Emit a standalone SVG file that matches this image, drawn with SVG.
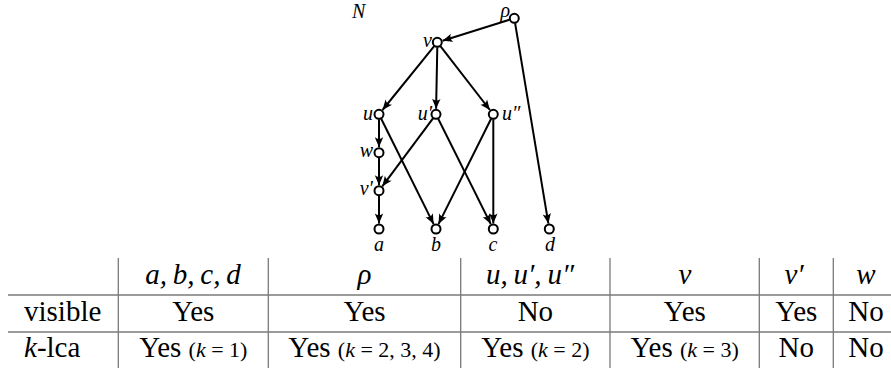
<svg xmlns="http://www.w3.org/2000/svg" width="891" height="374" viewBox="0 0 891 374">
<style>
.edge{stroke:#000;stroke-width:2;fill:none;marker-end:url(#arr)}
.node{fill:#fff;stroke:#000;stroke-width:2}
.lbl{font-family:"Liberation Serif","Times New Roman",serif;font-style:italic;font-size:20px;fill:#000}
.t{font-family:"Liberation Serif","Times New Roman",serif;font-size:29px;fill:#000}
.it{font-style:italic}
.sm{font-size:22px}
.grid{stroke:#7a7a7a;stroke-width:1.3}
</style>
<defs>
<marker id="arr" viewBox="-11 -5 12 10" markerWidth="12" markerHeight="10" refX="0" refY="0" orient="auto" markerUnits="userSpaceOnUse" overflow="visible">
<path d="M0,0 L-10,-4.2 Q-6.6,0 -10,4.2 Z" fill="#000"/>
</marker>
</defs>
<rect width="891" height="374" fill="#fff"/>
<g id="edges">
<line class="edge" x1="509.5" y1="19.8" x2="442.6" y2="40.7"/>
<line class="edge" x1="515.1" y1="23.2" x2="548.4" y2="223.6"/>
<line class="edge" x1="434.2" y1="46.2" x2="382.5" y2="110.0"/>
<line class="edge" x1="437.3" y1="47.3" x2="436.1" y2="108.8"/>
<line class="edge" x1="440.4" y1="46.2" x2="489.9" y2="110.0"/>
<line class="edge" x1="379" y1="119.3" x2="379" y2="147.2"/>
<line class="edge" x1="379" y1="157.7" x2="379" y2="185.2"/>
<line class="edge" x1="379" y1="195.7" x2="379" y2="223.5"/>
<line class="edge" x1="381.2" y1="118.8" x2="433.6" y2="224.1"/>
<line class="edge" x1="433" y1="118.3" x2="382.3" y2="186.3"/>
<line class="edge" x1="438.2" y1="118.8" x2="490.8" y2="224.1"/>
<line class="edge" x1="491.1" y1="118.8" x2="438.5" y2="224.1"/>
<line class="edge" x1="493.3" y1="119.3" x2="493.3" y2="223.5"/>
</g>
<text class="lbl" x="352" y="18">N</text>
<g id="rho"><circle class="node" cx="514.3" cy="18.3" r="4.5"/><text class="lbl" text-anchor="end" x="510" y="16.5" font-size="18">ρ</text></g>
<g id="v"><circle class="node" cx="437.3" cy="42.3" r="4.5"/><text class="lbl" text-anchor="end" x="432" y="47">v</text></g>
<g id="u"><circle class="node" cx="379" cy="114.3" r="4.5"/><text class="lbl" text-anchor="end" x="373" y="120">u</text></g>
<g id="u1"><circle class="node" cx="436" cy="114.3" r="4.5"/><text class="lbl" text-anchor="end" x="432" y="120">u′</text></g>
<g id="u2"><circle class="node" cx="493.3" cy="114.3" r="4.5"/><text class="lbl" x="502" y="120">u″</text></g>
<g id="w"><circle class="node" cx="379" cy="152.7" r="4.5"/><text class="lbl" text-anchor="end" x="373" y="157">w</text></g>
<g id="v1"><circle class="node" cx="379" cy="190.7" r="4.5"/><text class="lbl" text-anchor="end" x="373" y="195">v′</text></g>
<g id="a"><circle class="node" cx="379" cy="229" r="4.5"/><text class="lbl" text-anchor="middle" x="379" y="251">a</text></g>
<g id="b"><circle class="node" cx="436" cy="229" r="4.5"/><text class="lbl" text-anchor="middle" x="436" y="251">b</text></g>
<g id="c"><circle class="node" cx="493.3" cy="229" r="4.5"/><text class="lbl" text-anchor="middle" x="493" y="251">c</text></g>
<g id="d"><circle class="node" cx="549.3" cy="229" r="4.5"/><text class="lbl" text-anchor="middle" x="550" y="251">d</text></g>
<g id="table">
<line class="grid" x1="8" y1="295" x2="891" y2="295"/>
<line class="grid" x1="8" y1="332" x2="891" y2="332"/>
<line class="grid" x1="118.3" y1="258" x2="118.3" y2="368"/>
<line class="grid" x1="268.3" y1="258" x2="268.3" y2="368"/>
<line class="grid" x1="460.7" y1="258" x2="460.7" y2="368"/>
<line class="grid" x1="610" y1="258" x2="610" y2="368"/>
<line class="grid" x1="759.3" y1="258" x2="759.3" y2="368"/>
<line class="grid" x1="833.3" y1="258" x2="833.3" y2="368"/>
<text class="t it" text-anchor="middle" x="193" y="284">a,&#8201;b,&#8201;c,&#8201;d</text>
<text class="t it" text-anchor="middle" x="364.5" y="284">ρ</text>
<text class="t it" text-anchor="middle" x="530" y="284">u,&#8201;u′,&#8201;u″</text>
<text class="t it" text-anchor="middle" x="685" y="284">v</text>
<text class="t it" text-anchor="middle" x="794" y="284">v′</text>
<text class="t it" text-anchor="middle" x="866" y="284">w</text>
<text class="t" x="24" y="321">visible</text>
<text class="t" text-anchor="middle" x="193.3" y="321">Yes</text>
<text class="t" text-anchor="middle" x="364.5" y="321">Yes</text>
<text class="t" text-anchor="middle" x="535.4" y="321">No</text>
<text class="t" text-anchor="middle" x="684.7" y="321">Yes</text>
<text class="t" text-anchor="middle" x="796.3" y="321">Yes</text>
<text class="t" text-anchor="middle" x="866" y="321">No</text>
<text class="t" x="24" y="357"><tspan class="it">k</tspan>-lca</text>
<text class="t" text-anchor="middle" x="193.3" y="357">Yes <tspan class="sm">(<tspan class="it">k</tspan> = 1)</tspan></text>
<text class="t" text-anchor="middle" x="364.5" y="357">Yes <tspan class="sm">(<tspan class="it">k</tspan> = 2, 3, 4)</tspan></text>
<text class="t" text-anchor="middle" x="535.4" y="357">Yes <tspan class="sm">(<tspan class="it">k</tspan> = 2)</tspan></text>
<text class="t" text-anchor="middle" x="684.7" y="357">Yes <tspan class="sm">(<tspan class="it">k</tspan> = 3)</tspan></text>
<text class="t" text-anchor="middle" x="796.3" y="357">No</text>
<text class="t" text-anchor="middle" x="866" y="357">No</text>
</g>
</svg>
